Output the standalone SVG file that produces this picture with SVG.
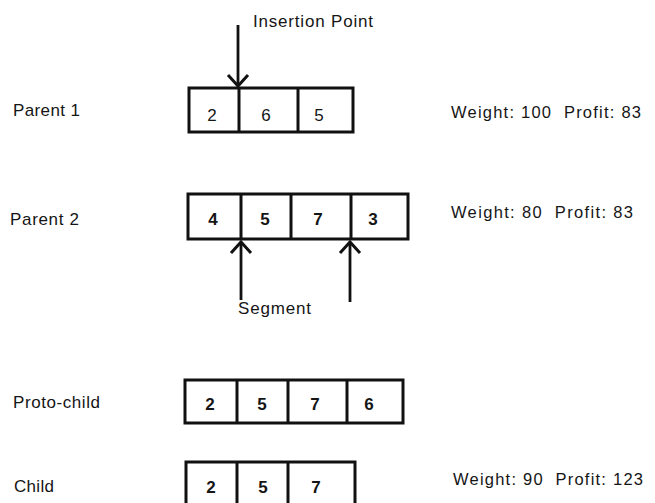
<svg xmlns="http://www.w3.org/2000/svg" width="655" height="503" viewBox="0 0 655 503">
  <style>
    text { font-family: "Liberation Sans", Arial, sans-serif; fill: #151515; }
    .lbl { font-size: 17px; }
    .stat { font-size: 16.5px; white-space: pre; }
    .num { font-size: 17px; text-anchor: middle; }
    .bold { font-weight: bold; }
    .cell { fill: #fff; stroke: #111; stroke-width: 3; }
    .div { stroke: #111; stroke-width: 3; }
    .arrow { stroke: #111; stroke-width: 2.8; fill: none; marker-end: url(#chev); }
  </style>
  <defs>
    <marker id="chev" markerUnits="userSpaceOnUse" viewBox="-14 -12 28 24" markerWidth="28" markerHeight="24" refX="0" refY="0" orient="auto" overflow="visible">
      <path d="M-11,-10 L0,0 L-11,10" fill="none" stroke="#111" stroke-width="3"/>
    </marker>
  </defs>
  <rect width="655" height="503" fill="#fff"/>

  <!-- Parent 1 -->
  <g id="parent1">
    <text class="lbl" x="13" y="116" textLength="67" lengthAdjust="spacing">Parent 1</text>
    <rect class="cell" x="189" y="88" width="164" height="44"/>
    <line class="div" x1="239" y1="88" x2="239" y2="132"/>
    <line class="div" x1="298" y1="88" x2="298" y2="132"/>
    <text class="num" x="212" y="121">2</text>
    <text class="num" x="266" y="121">6</text>
    <text class="num" x="319" y="121">5</text>
    <text class="stat" x="451" y="118" textLength="190" lengthAdjust="spacing">Weight: 100  Profit: 83</text>
  </g>

  <!-- Parent 2 -->
  <g id="parent2">
    <text class="lbl" x="10" y="225" textLength="69" lengthAdjust="spacing">Parent 2</text>
    <rect class="cell" x="188" y="194" width="220" height="45"/>
    <line class="div" x1="241" y1="194" x2="241" y2="239"/>
    <line class="div" x1="291" y1="194" x2="291" y2="239"/>
    <line class="div" x1="351" y1="194" x2="351" y2="239"/>
    <text class="num bold" x="213" y="225">4</text>
    <text class="num bold" x="265" y="225">5</text>
    <text class="num bold" x="318" y="225">7</text>
    <text class="num bold" x="373" y="225">3</text>
    <text class="stat" x="451" y="218" textLength="182" lengthAdjust="spacing">Weight: 80  Profit: 83</text>
  </g>

  <!-- Proto-child -->
  <g id="protochild">
    <text class="lbl" x="13" y="408" textLength="87" lengthAdjust="spacing">Proto-child</text>
    <rect class="cell" x="185" y="380" width="218" height="43"/>
    <line class="div" x1="237" y1="380" x2="237" y2="423"/>
    <line class="div" x1="288" y1="380" x2="288" y2="423"/>
    <line class="div" x1="347" y1="380" x2="347" y2="423"/>
    <text class="num bold" x="210" y="410">2</text>
    <text class="num bold" x="262" y="410">5</text>
    <text class="num bold" x="315" y="410">7</text>
    <text class="num bold" x="369" y="410">6</text>
  </g>

  <!-- Child -->
  <g id="child">
    <text class="lbl" x="14" y="492" textLength="40" lengthAdjust="spacing">Child</text>
    <rect class="cell" x="186" y="462" width="169" height="50"/>
    <line class="div" x1="237" y1="462" x2="237" y2="512"/>
    <line class="div" x1="288" y1="462" x2="288" y2="512"/>
    <text class="num bold" x="211" y="493">2</text>
    <text class="num bold" x="263" y="493">5</text>
    <text class="num bold" x="316" y="493">7</text>
    <text class="stat" x="453" y="485" textLength="190" lengthAdjust="spacing">Weight: 90  Profit: 123</text>
  </g>

  <!-- Insertion point and segment markers -->
  <g id="connectors">
    <line class="arrow" x1="238" y1="25" x2="238" y2="86"/>
    <line class="arrow" x1="241" y1="300" x2="241" y2="242"/>
    <line class="arrow" x1="350" y1="302" x2="350" y2="242"/>
    <text class="lbl" x="253" y="27" textLength="120" lengthAdjust="spacing">Insertion Point</text>
    <text class="lbl" x="238" y="314" textLength="73" lengthAdjust="spacing">Segment</text>
  </g>
</svg>
